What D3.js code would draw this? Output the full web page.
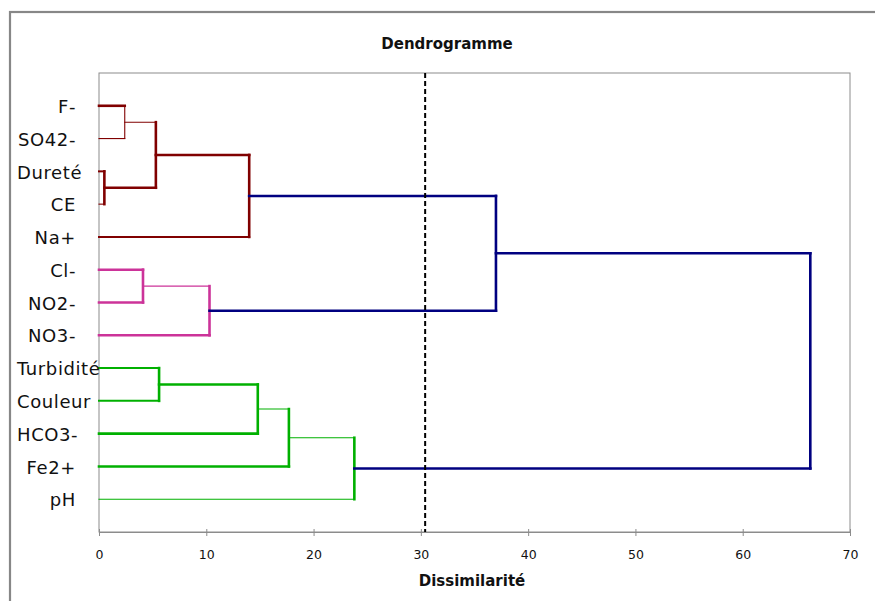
<!DOCTYPE html>
<html>
<head>
<meta charset="utf-8">
<script src="https://cdn.jsdelivr.net/npm/d3@7/dist/d3.min.js"></script>
<style>
  html, body { margin: 0; padding: 0; background: #fff; }
  svg { display: block; }
</style>
</head>
<body>
<svg id="chart" width="875" height="601"></svg>
<script>
// ---------------- DATA ----------------
const leaves = ["F-", "SO42-", "Dureté", "CE", "Na+", "Cl-", "NO2-", "NO3-",
                "Turbidité", "Couleur", "HCO3-", "Fe2+", "pH"];
// merges: [childA, childB, height]; children are leaf names or "m<index>"
const mergeLeft   = ["F-", "Dureté", "m0", "m2", "Cl-", "m4", "m3", "Turbidité", "m7", "m8", "m9", "m6"];
const mergeRight  = ["SO42-", "CE", "m1", "Na+", "NO2-", "NO3-", "m5", "Couleur", "HCO3-", "Fe2+", "pH", "m10"];
const mergeHeight = [2.4, 0.5, 5.3, 14.0, 4.1, 10.3, 37.0, 5.6, 14.8, 17.7, 23.8, 66.3];
const mergeGroup  = ["A", "A", "A", "A", "B", "B", "R", "C", "C", "C", "C", "R"];
const cutLevel = 30.4;
const xTicks = [0, 10, 20, 30, 40, 50, 60, 70];
const chartTitle = "Dendrogramme";
const xTitle = "Dissimilarité";

// ---------------- STYLE ----------------
const groupColor = { A: "#800000", B: "#CC3399", C: "#00B000", R: "#000080" };
const W = { t: 2.6, m: 2, n: 1.1 };
// per merge: [vertical, left link, right link]
const mergeWidths = [
  ["n", "t", "n"], ["t", "m", "n"], ["t", "n", "t"], ["t", "t", "m"],
  ["t", "t", "t"], ["t", "n", "t"], ["t", "t", "t"], ["t", "m", "m"],
  ["t", "t", "t"], ["t", "n", "t"], ["t", "n", "n"], ["t", "t", "t"]
];

const svg = d3.select("#chart");
const plot = { left: 99, right: 850, top: 73, bottom: 532 };

// outer frame
svg.append("rect").attr("x", 10).attr("y", 12).attr("width", 880).attr("height", 600)
  .attr("fill", "#fff").attr("stroke", "#878787").attr("stroke-width", 2.2);

const x = d3.scaleLinear().domain([0, 70]).range([plot.left, plot.right]);
const y = d3.scalePoint().domain(leaves).range([plot.top, plot.bottom]).padding(1);

// plot area box
svg.append("rect").attr("x", plot.left).attr("y", plot.top)
  .attr("width", plot.right - plot.left).attr("height", plot.bottom - plot.top)
  .attr("fill", "none").attr("stroke", "#8c8c8c").attr("stroke-width", 1);

// node positions
const pos = {};
leaves.forEach(l => pos[l] = { h: 0, y: y(l) });
mergeHeight.forEach((h, i) => {
  const a = pos[mergeLeft[i]], b = pos[mergeRight[i]];
  pos["m" + i] = { h: h, y: (a.y + b.y) / 2 };
});

// draw links
const g = svg.append("g");
mergeHeight.forEach((h, i) => {
  const a = pos[mergeLeft[i]], b = pos[mergeRight[i]];
  const col = groupColor[mergeGroup[i]];
  const w = mergeWidths[i];
  const line = (x1, y1, x2, y2, sw) => g.append("line")
    .attr("x1", x1).attr("y1", y1).attr("x2", x2).attr("y2", y2)
    .attr("stroke", col).attr("stroke-width", W[sw]).attr("stroke-linecap", "square");
  line(x(a.h), a.y, x(h), a.y, w[1]);
  line(x(b.h), b.y, x(h), b.y, w[2]);
  line(x(h), a.y, x(h), b.y, w[0]);
});

// cut line
svg.append("line").attr("x1", x(cutLevel)).attr("x2", x(cutLevel))
  .attr("y1", plot.top).attr("y2", plot.bottom)
  .attr("stroke", "#000").attr("stroke-width", 2).attr("stroke-dasharray", "5,3");

// x axis
const axis = d3.axisBottom(x).tickValues(xTicks).tickSizeInner(4).tickSizeOuter(0).tickPadding(14);
const ax = svg.append("g").attr("transform", `translate(0,${plot.bottom})`).call(axis);
ax.select(".domain").attr("stroke", "#8c8c8c");
ax.selectAll(".tick line").attr("y1", -3).attr("stroke", "#8c8c8c");
ax.selectAll(".tick text").attr("font-family", "DejaVu Sans").attr("font-size", 12.5).attr("fill", "#111");

// leaf labels
const labels = svg.append("g").selectAll("text").data(leaves).join("text")
  .attr("y", d => y(d)).attr("dy", "0.4em")
  .attr("font-family", "DejaVu Sans").attr("font-size", 18).attr("letter-spacing", 0.6)
  .attr("fill", "#111")
  .text(d => d);
labels.each(function () {
  const w = this.getComputedTextLength();
  d3.select(this).attr("x", Math.max(17, 76 - w));
});

// titles
svg.append("text").attr("x", 447).attr("y", 49).attr("text-anchor", "middle")
  .attr("font-family", "DejaVu Sans").attr("font-weight", "bold").attr("font-size", 15)
  .attr("fill", "#111").text(chartTitle);
svg.append("text").attr("x", 472).attr("y", 586).attr("text-anchor", "middle")
  .attr("font-family", "DejaVu Sans").attr("font-weight", "bold").attr("font-size", 15)
  .attr("fill", "#111").text(xTitle);
</script>
</body>
</html>
